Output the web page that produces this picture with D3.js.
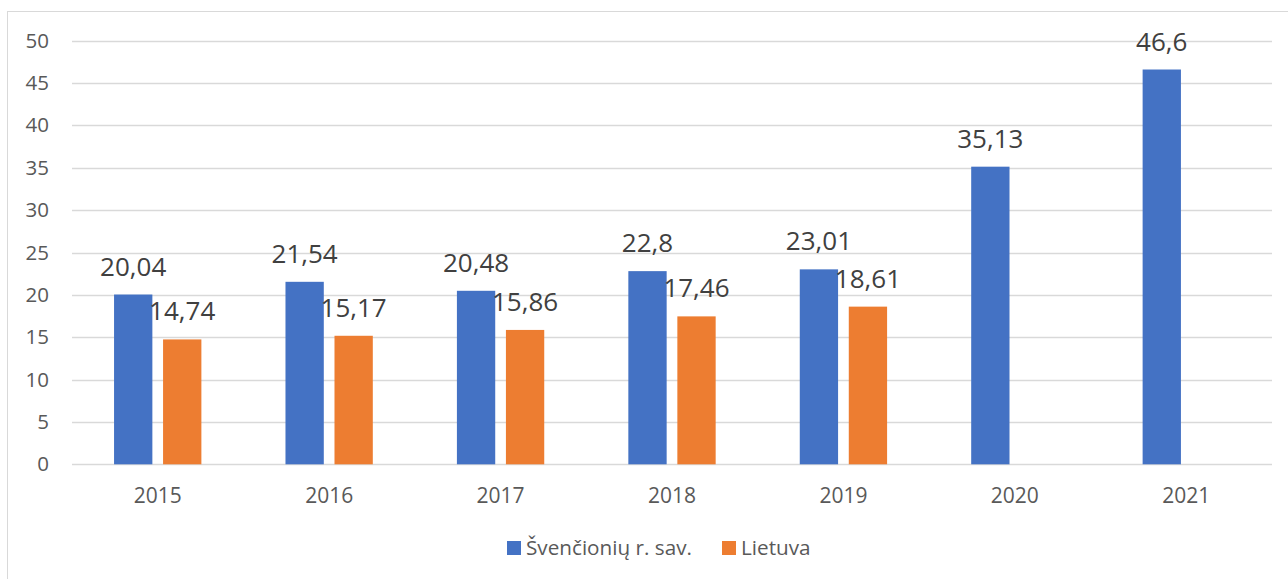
<!DOCTYPE html>
<html><head><meta charset="utf-8">
<script src="https://cdn.jsdelivr.net/npm/d3@7"></script>
<style>html,body{margin:0;padding:0;background:#fff;}svg{display:block;}</style>
</head><body>
<svg id="c" width="1288" height="579"></svg>
<script>
const categories = ["2015","2016","2017","2018","2019","2020","2021"];
const seriesNames = ["Švenčionių r. sav.","Lietuva"];
const svencionys = [20.04,21.54,20.48,22.8,23.01,35.13,46.6];
const lietuva = [14.74,15.17,15.86,17.46,18.61,null,null];
const yTicks = [0,5,10,15,20,25,30,35,40,45,50];
const colors = ["#4472C4","#ED7D31"];

const svg = d3.select("#c");
const font = "'Open Sans', sans-serif";
// chart border
svg.append("rect").attr("x",7.5).attr("y",11.5).attr("width",1290).attr("height",600)
  .attr("fill","none").attr("stroke","#d9d9d9").attr("stroke-width",1);

const x0 = 72, x1 = 1272, y0 = 464.3, y1 = 40.7;
const x = d3.scaleBand().domain(categories).range([x0,x1]).paddingInner(0).paddingOuter(0);
const y = d3.scaleLinear().domain([0,50]).range([y0,y1]);

// gridlines
svg.append("g").selectAll("line").data(yTicks).join("line")
  .attr("x1",x0).attr("x2",x1).attr("y1",d=>Math.round(y(d))+0.5).attr("y2",d=>Math.round(y(d))+0.5)
  .attr("stroke","#d9d9d9").attr("stroke-width",1.3);

// y axis labels
const yAxis = d3.axisLeft(y).tickValues(yTicks).tickSize(0).tickPadding(0).tickFormat(d=>d);
const gy = svg.append("g").attr("transform","translate(49,0)").call(yAxis);
gy.select(".domain").remove();
gy.selectAll("text").attr("font-family",font).attr("font-size",20.5).attr("fill","#595959");

// x axis labels
const xAxis = d3.axisBottom(x).tickSize(0).tickPadding(0);
const gx = svg.append("g").attr("transform","translate(0,503)").call(xAxis);
gx.select(".domain").remove();
gx.selectAll("text").attr("font-family",font).attr("font-size",21).attr("fill","#595959").attr("dy","0");

const bw = x.bandwidth();
const barW = bw*0.2235, gap = bw*0.0624;
const xs = d3.scaleOrdinal().domain([0,1]).range([bw/2 - gap/2 - barW, bw/2 + gap/2]);

const series = [svencionys, lietuva];
series.forEach((vals,si)=>{
  const data = categories.map((c,i)=>({c, v: vals[i]})).filter(d=>d.v!=null);
  const g = svg.append("g");
  g.selectAll("rect").data(data).join("rect")
    .attr("x",d=>x(d.c)+xs(si)).attr("width",barW)
    .attr("y",d=>y(d.v)).attr("height",d=>y(0)-y(d.v))
    .attr("fill",colors[si]);
  g.selectAll("text").data(data).join("text")
    .attr("x",d=>x(d.c)+xs(si)+barW/2).attr("y",d=>y(d.v)-19)
    .attr("text-anchor","middle").attr("font-family",font).attr("font-size",26)
    .attr("fill","#404040")
    .text(d=>String(d.v).replace(".",","));
});

// legend
const legend = svg.append("g");
const items = [{name:seriesNames[0],x:507,c:colors[0]},{name:seriesNames[1],x:722,c:colors[1]}];
items.forEach(it=>{
  legend.append("rect").attr("x",it.x).attr("y",541).attr("width",14).attr("height",14).attr("fill",it.c);
  legend.append("text").attr("x",it.x+19).attr("y",555).attr("font-family",font).attr("font-size",20.7)
    .attr("fill","#595959").text(it.name);
});
</script>
</body></html>
